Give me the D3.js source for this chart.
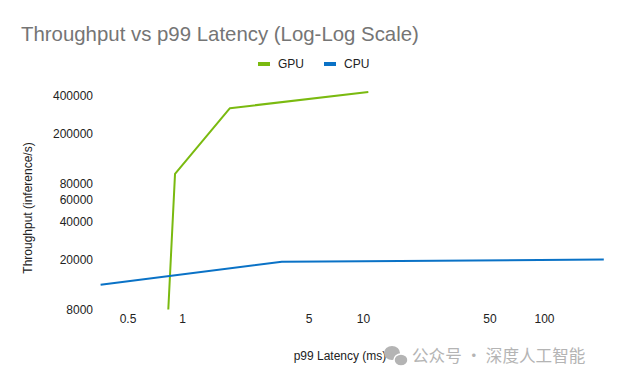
<!DOCTYPE html>
<html>
<head>
<meta charset="utf-8">
<script src="https://cdn.jsdelivr.net/npm/d3@7"></script>
<style>
  body { margin: 0; background: #fff; }
  svg { display: block; font-family: "Liberation Sans", Arial, sans-serif; }
</style>
</head>
<body>
<div id="chart"></div>
<script>
// values
const gpuLatency = [0.84, 0.915, 1.84, 10.7];
const gpuThroughput = [8000, 96000, 320000, 430000];
const cpuLatency = [0.355, 3.56, 10, 214];
const cpuThroughput = [12600, 19200, 19400, 20000];
const xTickValues = [0.5, 1, 5, 10, 50, 100];
const yTickValues = [8000, 20000, 40000, 60000, 80000, 200000, 400000];
const seriesNames = ["GPU", "CPU"];
const seriesColors = ["#7aba10", "#0a72c6"];

const width = 625, height = 384;

var svg = d3.select("#chart")
    .append("svg")
    .attr("width", width)
    .attr("height", height);

// scales: 1ms at 182px, 10ms at 363px
var x = d3.scaleLog()
    .domain([0.355, 214])
    .range([100.6, 603.8]);
var y = d3.scaleLog()
    .domain([8000, 400000])
    .range([309.5, 96]);

// title
svg.append("text")
    .attr("x", 21)
    .attr("y", 41)
    .attr("font-size", "20.4px")
    .attr("fill", "#757575")
    .text("Throughput vs p99 Latency (Log-Log Scale)");

// legend
var legendX = [258, 324];
seriesNames.forEach(function(name, i) {
    svg.append("rect")
        .attr("x", legendX[i])
        .attr("y", 62)
        .attr("width", 12)
        .attr("height", 4)
        .attr("fill", seriesColors[i]);
    svg.append("text")
        .attr("x", legendX[i] + 20)
        .attr("y", 68)
        .attr("font-size", "12px")
        .attr("fill", "#222")
        .text(name);
});

// y axis tick labels (no axis line)
var yAxis = svg.append("g")
    .attr("transform", "translate(93,0)")
    .call(d3.axisLeft(y).tickValues(yTickValues).tickSize(0).tickPadding(0).tickFormat(d3.format("d")));
yAxis.select(".domain").remove();
yAxis.selectAll("text")
    .attr("font-size", "12px")
    .attr("font-family", "Liberation Sans, Arial, sans-serif")
    .attr("fill", "#222");

// x axis tick labels
var xAxis = svg.append("g")
    .attr("transform", "translate(0,314)")
    .call(d3.axisBottom(x).tickValues(xTickValues).tickSize(0).tickPadding(0).tickFormat(d => String(d)));
xAxis.select(".domain").remove();
xAxis.selectAll("text")
    .attr("font-size", "12px")
    .attr("font-family", "Liberation Sans, Arial, sans-serif")
    .attr("fill", "#222");

// axis titles
svg.append("text")
    .attr("transform", "translate(32,208) rotate(-90)")
    .attr("text-anchor", "middle")
    .attr("font-size", "12px")
    .attr("fill", "#222")
    .text("Throughput (inference/s)");
svg.append("text")
    .attr("x", 340)
    .attr("y", 360)
    .attr("text-anchor", "middle")
    .attr("font-size", "12px")
    .attr("fill", "#222")
    .text("p99 Latency (ms)");

// lines
var line = d3.line()
    .x(d => x(d[0]))
    .y(d => y(d[1]));
var series = [
    d3.zip(gpuLatency, gpuThroughput),
    d3.zip(cpuLatency, cpuThroughput)
];
series.forEach(function(pts, i) {
    svg.append("path")
        .datum(pts)
        .attr("fill", "none")
        .attr("stroke", seriesColors[i])
        .attr("stroke-width", 2)
        .attr("stroke-linejoin", "round")
        .attr("d", line);
});

// watermark
var wm = svg.append("g").attr("fill", "#b4b4b4");
wm.append("ellipse").attr("cx", 392).attr("cy", 353).attr("rx", 8).attr("ry", 7);
wm.append("ellipse").attr("cx", 401).attr("cy", 360).attr("rx", 7).attr("ry", 6).attr("stroke", "#fff").attr("stroke-width", 1.5);
wm.append("text")
    .attr("x", 412)
    .attr("y", 362)
    .attr("font-size", "16.6px")
    .attr("font-family", "Noto Sans CJK SC, sans-serif")
    .text("公众号 · 深度人工智能");
</script>
</body>
</html>
